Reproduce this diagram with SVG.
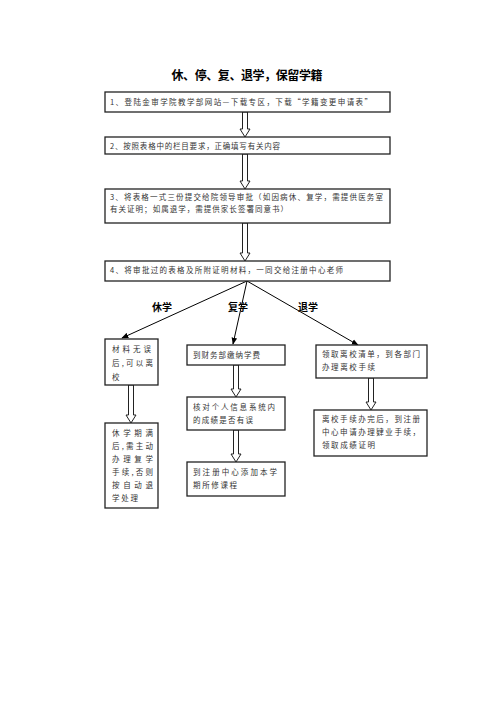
<svg xmlns="http://www.w3.org/2000/svg" width="496" height="702" viewBox="0 0 496 702">
<defs>
<style>
.box{fill:#fff;stroke:#222;stroke-width:1.3}
.t{font-family:"Noto Sans CJK SC","Noto Sans",sans-serif;font-size:7.5px;fill:#333}
.h{font-family:"Noto Sans CJK SC","Noto Sans",sans-serif;font-weight:bold;fill:#000}
.ba{fill:#fff;stroke:#222;stroke-width:1}
.ln{stroke:#000;stroke-width:1;fill:none;marker-end:url(#ah)}
</style>
<marker id="ah" viewBox="0 0 10 10" refX="9" refY="5" markerWidth="7" markerHeight="7" orient="auto" markerUnits="userSpaceOnUse">
<path d="M0,1 L10,5 L0,9 Z" fill="#000"/>
</marker>
</defs>
<rect width="496" height="702" fill="#fff"/>
<text class="h" x="247" y="80" font-size="12" text-anchor="middle" textLength="151" lengthAdjust="spacing">休、停、复、退学，保留学籍</text>

<g id="connectors">
<path class="ba" d="M242.5,112 V129 H240 L245,137 L250,129 H247.5 V112 Z"/>
<path class="ba" d="M242.5,154 V181 H240 L245,189 L250,181 H247.5 V154 Z"/>
<path class="ba" d="M242.5,223 V253 H240 L245,261 L250,253 H247.5 V223 Z"/>
<line class="ln" x1="247" y1="281" x2="122" y2="338"/>
<line class="ln" x1="247" y1="281" x2="233" y2="344"/>
<line class="ln" x1="247" y1="281" x2="358" y2="345"/>
<path class="ba" d="M128.5,385 V415 H126 L131,423 L136,415 H133.5 V385 Z"/>
<path class="ba" d="M233.5,365 V389 H231 L236,397 L241,389 H238.5 V365 Z"/>
<path class="ba" d="M233.5,430 V454 H231 L236,462 L241,454 H238.5 V430 Z"/>
<path class="ba" d="M368.5,378 V402 H366 L371,410 L376,402 H373.5 V378 Z"/>
</g>

<text class="h" x="152" y="311" font-size="10" textLength="20" lengthAdjust="spacing">休学</text>
<text class="h" x="228" y="311" font-size="10" textLength="20" lengthAdjust="spacing">复学</text>
<text class="h" x="298" y="311" font-size="10" textLength="20" lengthAdjust="spacing">退学</text>

<g id="n1">
<rect class="box" x="105" y="92" width="285" height="20"/>
<text class="t" x="110" y="105" textLength="262" lengthAdjust="spacing">1、登陆金审学院教学部网站—下载专区，下载“学籍变更申请表”</text>
</g>
<g id="n2">
<rect class="box" x="105" y="137" width="285" height="17"/>
<text class="t" x="110" y="148.5" textLength="170" lengthAdjust="spacing">2、按照表格中的栏目要求，正确填写有关内容</text>
</g>
<g id="n3">
<rect class="box" x="105" y="189" width="285" height="34"/>
<text class="t" x="110" y="200" textLength="273" lengthAdjust="spacing">3、将表格一式三份提交给院领导审批（如因病休、复学，需提供医务室</text>
<text class="t" x="110" y="212" textLength="178" lengthAdjust="spacing">有关证明；如属退学，需提供家长签署同意书）</text>
</g>
<g id="n4">
<rect class="box" x="105" y="261" width="285" height="20"/>
<text class="t" x="110" y="273" textLength="233" lengthAdjust="spacing">4、将审批过的表格及所附证明材料，一同交给注册中心老师</text>
</g>

<g id="nA">
<rect class="box" x="105" y="339" width="53" height="46"/>
<text class="t" x="112" y="352" textLength="39" lengthAdjust="spacing">材料无误</text>
<text class="t" x="112" y="366" textLength="41" lengthAdjust="spacing">后,可以离</text>
<text class="t" x="112" y="380">校</text>
</g>
<g id="nA2">
<rect class="box" x="105" y="423" width="53" height="85"/>
<text class="t" x="112" y="436" textLength="41" lengthAdjust="spacing">休学期满</text>
<text class="t" x="112" y="449" textLength="41" lengthAdjust="spacing">后,需主动</text>
<text class="t" x="112" y="462" textLength="41" lengthAdjust="spacing">办理复学</text>
<text class="t" x="112" y="475" textLength="41" lengthAdjust="spacing">手续,否则</text>
<text class="t" x="112" y="488" textLength="41" lengthAdjust="spacing">按自动退</text>
<text class="t" x="112" y="501" textLength="26" lengthAdjust="spacing">学处理</text>
</g>
<g id="nB">
<rect class="box" x="187" y="345" width="98" height="20"/>
<text class="t" x="193" y="358" textLength="67" lengthAdjust="spacing">到财务部缴纳学费</text>
</g>
<g id="nB2">
<rect class="box" x="187" y="397" width="98" height="33"/>
<text class="t" x="193" y="410" textLength="82" lengthAdjust="spacing">核对个人信息系统内</text>
<text class="t" x="193" y="423" textLength="60" lengthAdjust="spacing">的成绩是否有误</text>
</g>
<g id="nB3">
<rect class="box" x="187" y="462" width="98" height="34"/>
<text class="t" x="193" y="475" textLength="84" lengthAdjust="spacing">到注册中心添加本学</text>
<text class="t" x="193" y="488" textLength="44" lengthAdjust="spacing">期所修课程</text>
</g>
<g id="nC">
<rect class="box" x="316" y="345" width="111" height="33"/>
<text class="t" x="322" y="357" textLength="98" lengthAdjust="spacing">领取离校清单，到各部门</text>
<text class="t" x="322" y="370" textLength="53" lengthAdjust="spacing">办理离校手续</text>
</g>
<g id="nC2">
<rect class="box" x="314" y="410" width="113" height="46"/>
<text class="t" x="322" y="422" textLength="98" lengthAdjust="spacing">离校手续办完后，到注册</text>
<text class="t" x="322" y="435" textLength="98" lengthAdjust="spacing">中心申请办理肄业手续，</text>
<text class="t" x="322" y="448" textLength="53" lengthAdjust="spacing">领取成绩证明</text>
</g>
</svg>
